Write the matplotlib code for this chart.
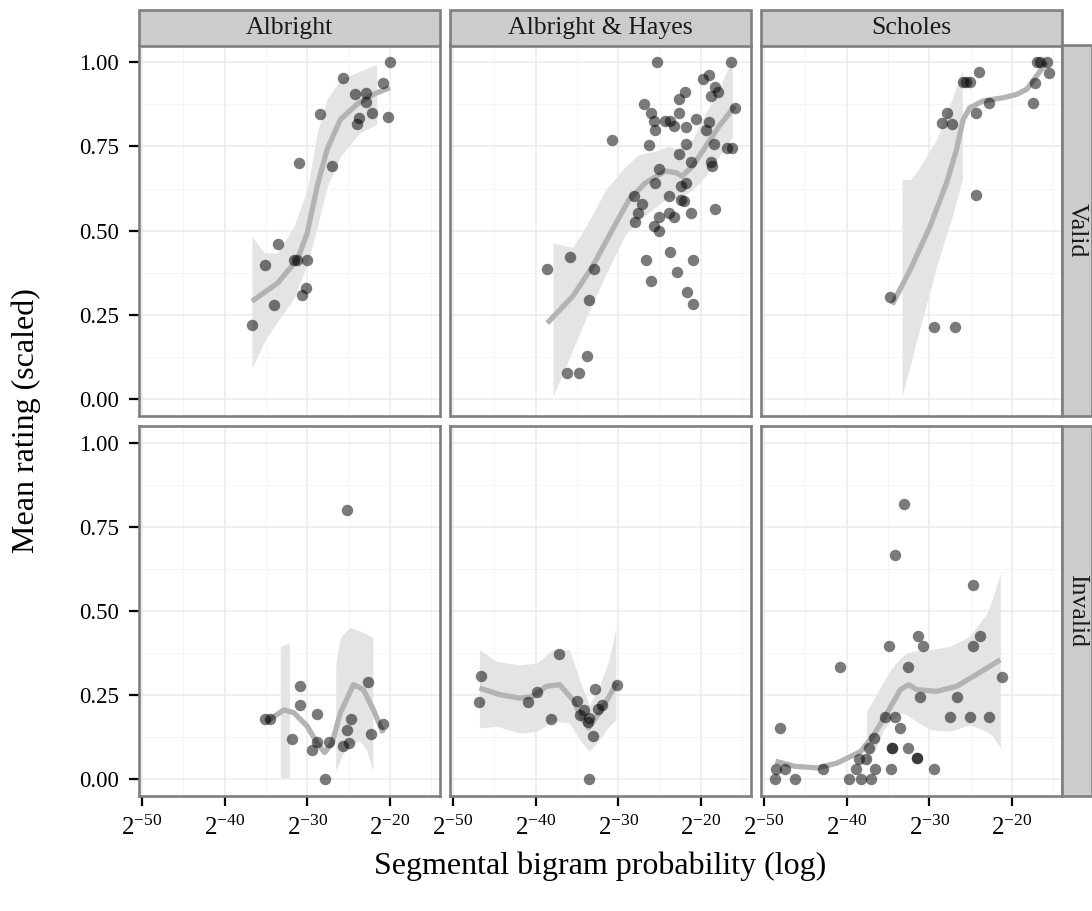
import matplotlib
matplotlib.use('Agg')
import matplotlib.pyplot as plt
import numpy as np
from matplotlib.patches import Rectangle

plt.rcParams['font.family'] = ['Liberation Serif', 'DejaVu Serif']
plt.rcParams['mathtext.fontset'] = 'custom'
plt.rcParams['mathtext.rm'] = 'Liberation Serif'
plt.rcParams['mathtext.default'] = 'regular'

# facet labels
sources = ['Albright', 'Albright & Hayes', 'Scholes']
conditions = ['Valid', 'Invalid']

# x values are log2(probability)
x_ticks = [-50, -40, -30, -20]
x_tick_labels = ['$2^{-50}$', '$2^{-40}$', '$2^{-30}$', '$2^{-20}$']
y_ticks = [0.0, 0.25, 0.5, 0.75, 1.0]
y_tick_labels = ['0.00', '0.25', '0.50', '0.75', '1.00']

# ---- Albright / Valid
alb_valid_x = [-20.0, -25.7, -20.8, -24.2, -22.9, -22.9, -22.2, -23.8, -24.0, -20.2, -28.4,
               -31.0, -27.0, -33.5, -35.1, -31.2, -31.6, -30.0, -30.1, -30.6, -34.0, -36.7]
alb_valid_y = [1.00, 0.954, 0.9375, 0.907, 0.908, 0.882, 0.850, 0.835, 0.818, 0.839, 0.845,
               0.700, 0.691, 0.461, 0.398, 0.412, 0.412, 0.412, 0.329, 0.309, 0.279, 0.219]
alb_valid_fit_x = [-36.7, -33.6, -31.2, -30.0, -28.8, -27.6, -26.0, -24.0, -22.0, -20.0]
alb_valid_fit_y = [0.290, 0.344, 0.414, 0.493, 0.632, 0.741, 0.830, 0.875, 0.905, 0.925]
alb_valid_band_x = [-36.7, -35.2, -33.6, -31.6, -30.0, -28.8, -27.6, -26.0, -23.6, -21.6]
alb_valid_band_hi = [0.483, 0.434, 0.434, 0.513, 0.622, 0.791, 0.890, 0.949, 0.974, 0.994]
alb_valid_band_lo = [0.091, 0.170, 0.230, 0.300, 0.400, 0.510, 0.630, 0.720, 0.791, 0.815]

# ---- Albright & Hayes / Valid
ah_valid_x = [-25.3, -16.3, -19.8, -19.0, -18.3, -17.9, -18.8, -21.9, -22.6, -26.9, -15.9,
              -26.1, -22.6, -25.7, -24.4, -23.7, -23.2, -21.8, -20.6, -19.0, -25.5, -19.4,
              -30.8, -26.3, -21.8, -18.4, -16.9, -16.2, -22.6, -21.2, -18.8, -18.6, -25.1,
              -25.6, -21.8, -22.4, -23.9, -28.1, -22.4, -22.0, -27.1, -18.3, -21.2, -27.6,
              -23.9, -23.2, -25.1, -28.0, -25.7, -25.1, -23.7, -26.7, -21.0, -22.9, -26.0,
              -21.7, -20.9, -38.6, -35.9, -32.9, -33.6, -33.8, -36.2, -34.7]
ah_valid_y = [1.00, 1.00, 0.951, 0.961, 0.928, 0.912, 0.900, 0.913, 0.890, 0.875, 0.865,
              0.848, 0.848, 0.825, 0.825, 0.825, 0.812, 0.809, 0.832, 0.824, 0.799, 0.799,
              0.769, 0.754, 0.757, 0.756, 0.745, 0.745, 0.729, 0.705, 0.705, 0.693, 0.684,
              0.640, 0.640, 0.632, 0.604, 0.602, 0.592, 0.589, 0.579, 0.565, 0.553, 0.553,
              0.553, 0.539, 0.539, 0.525, 0.513, 0.500, 0.4375, 0.412, 0.412, 0.376, 0.350,
              0.319, 0.281, 0.386, 0.422, 0.386, 0.293, 0.126, 0.076, 0.076]
ah_valid_fit_x = [-38.6, -35.5, -33.1, -30.7, -28.7, -26.7, -24.3, -23.0, -22.3, -21.0,
                  -19.4, -17.8, -15.9]
ah_valid_fit_y = [0.225, 0.305, 0.394, 0.503, 0.592, 0.642, 0.677, 0.672, 0.662, 0.691,
                  0.751, 0.810, 0.870]
ah_valid_band_x = [-37.9, -35.5, -33.9, -31.5, -29.1, -27.5, -25.5, -23.9, -22.7, -21.0,
                   -19.4, -17.8, -16.6, -16.2]
ah_valid_band_hi = [0.463, 0.450, 0.513, 0.622, 0.691, 0.726, 0.736, 0.751, 0.741, 0.771,
                    0.850, 0.920, 0.989, 1.000]
ah_valid_band_lo = [0.007, 0.146, 0.240, 0.370, 0.490, 0.530, 0.570, 0.600, 0.592, 0.622,
                    0.662, 0.720, 0.760, 0.780]

# ---- Scholes / Valid
sch_valid_x = [-17.0, -16.6, -15.7, -15.5, -17.2, -17.5, -24.0, -25.9, -25.5, -25.1,
               -22.8, -24.4, -27.9, -28.5, -27.3, -24.3, -34.7, -29.4, -26.9]
sch_valid_y = [1.00, 1.00, 1.00, 0.969, 0.940, 0.880, 0.971, 0.942, 0.942, 0.942,
               0.878, 0.848, 0.850, 0.820, 0.818, 0.607, 0.303, 0.213, 0.213]
sch_valid_fit_x = [-34.5, -32.3, -29.9, -27.9, -26.7, -25.9, -25.1, -23.5, -21.0, -19.4,
                   -18.2, -17.0, -15.8]
sch_valid_fit_y = [0.280, 0.384, 0.513, 0.642, 0.741, 0.830, 0.865, 0.885, 0.895, 0.905,
                   0.920, 0.960, 1.000]
sch_valid_band_x = [-33.3, -32.3, -31.5, -29.1, -27.1, -26.0]
sch_valid_band_hi = [0.652, 0.652, 0.675, 0.771, 0.900, 0.979]
sch_valid_band_lo = [0.007, 0.100, 0.176, 0.394, 0.553, 0.652]

# ---- Albright / Invalid
alb_invalid_x = [-25.2, -22.6, -30.9, -30.9, -28.8, -35.1, -34.5, -24.7, -20.8, -25.2,
                 -31.8, -22.3, -28.8, -27.4, -24.9, -25.7, -29.4, -27.9]
alb_invalid_y = [0.799, 0.288, 0.275, 0.218, 0.193, 0.179, 0.177, 0.179, 0.164, 0.144,
                 0.118, 0.133, 0.108, 0.108, 0.106, 0.096, 0.086, 0.000]
alb_invalid_fit_x = [-34.9, -32.8, -31.6, -30.0, -28.8, -27.9, -27.0, -26.0, -24.4, -23.2,
                     -22.0, -20.8]
alb_invalid_fit_y = [0.171, 0.205, 0.196, 0.156, 0.106, 0.078, 0.106, 0.196, 0.280, 0.265,
                     0.205, 0.136]
# the band is cut where it leaves the 0-1 range, so it comes in pieces
alb_invalid_band_x = [-33.2, -32.1, np.nan, -26.5, -26.0, -25.4, -24.8, -23.6, -22.8, -22.0]
alb_invalid_band_hi = [0.393, 0.402, np.nan, 0.334, 0.414, 0.435, 0.448, 0.438, 0.430, 0.419]
alb_invalid_band_lo = [0.002, 0.002, np.nan, 0.022, 0.050, 0.086, 0.100, 0.111, 0.086, 0.022]

# ---- Albright & Hayes / Invalid
ah_invalid_x = [-37.2, -46.6, -46.9, -39.8, -40.9, -38.1, -35.0, -34.2, -34.6, -33.6,
                -33.7, -32.8, -32.4, -32.0, -33.0, -30.2, -33.5]
ah_invalid_y = [0.371, 0.307, 0.229, 0.257, 0.227, 0.179, 0.230, 0.205, 0.191, 0.180,
                0.168, 0.267, 0.207, 0.219, 0.126, 0.280, 0.000]
ah_invalid_fit_x = [-46.8, -44.3, -41.9, -40.3, -38.7, -37.1, -35.5, -34.3, -33.6, -32.3,
                    -31.1, -30.2]
ah_invalid_fit_y = [0.270, 0.250, 0.240, 0.245, 0.275, 0.280, 0.235, 0.176, 0.151, 0.196,
                    0.245, 0.285]
ah_invalid_band_x = [-46.8, -44.7, -41.9, -39.9, -37.9, -35.9, -34.7, -33.5, -32.3, -31.1,
                     -30.3]
ah_invalid_band_hi = [0.384, 0.349, 0.339, 0.344, 0.384, 0.384, 0.295, 0.220, 0.275, 0.354,
                      0.448]
ah_invalid_band_lo = [0.151, 0.156, 0.136, 0.141, 0.171, 0.166, 0.116, 0.081, 0.116, 0.156,
                      0.176]

# ---- Scholes / Invalid
sch_invalid_x = [-33.0, -34.2, -24.7, -31.4, -23.9, -34.9, -30.8, -24.7, -40.8, -32.6,
                 -21.2, -31.1, -26.7, -35.3, -34.1, -27.5, -25.1, -22.8, -33.5, -48.1,
                 -36.7, -37.3, -34.5, -34.5, -32.6, -31.5, -31.5, -37.6, -38.5, -48.5,
                 -47.4, -42.9, -38.9, -36.6, -34.6, -29.4, -48.7, -46.3, -39.7, -38.3,
                 -37.1]
sch_invalid_y = [0.818, 0.667, 0.577, 0.426, 0.426, 0.394, 0.394, 0.394, 0.334, 0.334,
                 0.304, 0.243, 0.243, 0.183, 0.183, 0.183, 0.183, 0.183, 0.151, 0.151,
                 0.121, 0.091, 0.091, 0.091, 0.091, 0.062, 0.062, 0.059, 0.059, 0.029,
                 0.029, 0.029, 0.029, 0.029, 0.029, 0.029, 0.000, 0.000, 0.000, 0.000,
                 0.000]
sch_invalid_fit_x = [-48.6, -46.3, -43.5, -41.1, -38.3, -36.7, -35.1, -33.5, -32.5, -31.5,
                     -29.1, -26.7, -24.3, -21.4]
sch_invalid_fit_y = [0.052, 0.037, 0.032, 0.047, 0.081, 0.131, 0.196, 0.265, 0.280, 0.265,
                     0.260, 0.275, 0.310, 0.354]
sch_invalid_band_x = [-37.6, -36.3, -35.5, -34.7, -33.5, -32.7, -31.9, -29.9, -27.5, -25.1,
                      -23.0, -22.3, -21.4]
sch_invalid_band_hi = [0.200, 0.255, 0.290, 0.324, 0.360, 0.374, 0.380, 0.384, 0.394, 0.424,
                       0.493, 0.540, 0.612]
sch_invalid_band_lo = [0.035, 0.100, 0.146, 0.170, 0.196, 0.190, 0.176, 0.146, 0.141, 0.161,
                       0.140, 0.126, 0.091]

panels = {
    (0, 0): (alb_valid_x, alb_valid_y, alb_valid_fit_x, alb_valid_fit_y,
             alb_valid_band_x, alb_valid_band_lo, alb_valid_band_hi),
    (0, 1): (ah_valid_x, ah_valid_y, ah_valid_fit_x, ah_valid_fit_y,
             ah_valid_band_x, ah_valid_band_lo, ah_valid_band_hi),
    (0, 2): (sch_valid_x, sch_valid_y, sch_valid_fit_x, sch_valid_fit_y,
             sch_valid_band_x, sch_valid_band_lo, sch_valid_band_hi),
    (1, 0): (alb_invalid_x, alb_invalid_y, alb_invalid_fit_x, alb_invalid_fit_y,
             alb_invalid_band_x, alb_invalid_band_lo, alb_invalid_band_hi),
    (1, 1): (ah_invalid_x, ah_invalid_y, ah_invalid_fit_x, ah_invalid_fit_y,
             ah_invalid_band_x, ah_invalid_band_lo, ah_invalid_band_hi),
    (1, 2): (sch_invalid_x, sch_invalid_y, sch_invalid_fit_x, sch_invalid_fit_y,
             sch_invalid_band_x, sch_invalid_band_lo, sch_invalid_band_hi),
}

W, H = 1092, 911
fig = plt.figure(figsize=(W / 100, H / 100), dpi=100)
fig.patch.set_facecolor('white')

# panel boxes in pixels
col_px = [(139, 440), (450, 751), (761, 1062)]
row_px = [(45.5, 415.7), (426, 795.5)]
border = '#7f7f7f'


def fig_rect(x0, x1, y0, y1):
    return [x0 / W, 1 - y1 / H, (x1 - x0) / W, (y1 - y0) / H]


for (r, c), (px, py, fx, fy, bx, blo, bhi) in panels.items():
    ax = fig.add_axes(fig_rect(col_px[c][0], col_px[c][1], row_px[r][0], row_px[r][1]))
    ax.set_xlim(-50.36, -13.94)
    ax.set_ylim(-0.05, 1.05)
    ax.set_axisbelow(True)

    ax.fill_between(bx, blo, bhi, color='#e4e4e4', lw=0, zorder=1)
    ax.plot(fx, fy, color='#b3b3b3', lw=3.8, solid_joinstyle='round',
            solid_capstyle='butt', zorder=2)
    ax.scatter(px, py, s=68, color='black', alpha=0.52, lw=0, zorder=3)

    ax.set_xticks(x_ticks)
    ax.set_xticks([-45, -35, -25, -15], minor=True)
    ax.set_yticks(y_ticks)
    ax.set_yticks([0.125, 0.375, 0.625, 0.875], minor=True)
    ax.grid(which='major', color='#ebebeb', lw=1.1)
    ax.grid(which='minor', color='#f5f5f5', lw=0.7)
    ax.tick_params(which='minor', length=0)
    ax.tick_params(which='major', length=7.5, width=1.6, color='black', pad=7)
    ax.tick_params(axis='y', labelsize=16.5)
    ax.tick_params(axis='x', labelsize=18)

    if r == 1:
        ax.set_xticklabels(x_tick_labels)
    else:
        ax.tick_params(axis='x', length=0, labelbottom=False)
    if c == 0:
        ax.set_yticklabels(y_tick_labels)
    else:
        ax.tick_params(axis='y', length=0, labelleft=False)

    for s in ax.spines.values():
        s.set_color(border)
        s.set_linewidth(1.9)

# top strips
for c, name in enumerate(sources):
    x0, x1 = col_px[c]
    fig.patches.append(Rectangle((x0 / W, 1 - 45.5 / H), (x1 - x0) / W, 35.5 / H,
                                 transform=fig.transFigure, facecolor='#cccccc',
                                 edgecolor=border, lw=1.9))
    fig.text((x0 + x1) / 2 / W, 1 - 28 / H, name, ha='center', va='center',
             fontsize=18.5, color='#1a1a1a')

# right strips
for r, name in enumerate(conditions):
    y0, y1 = row_px[r]
    fig.patches.append(Rectangle((1062 / W, 1 - y1 / H), 30 / W, (y1 - y0) / H,
                                 transform=fig.transFigure, facecolor='#cccccc',
                                 edgecolor=border, lw=1.9))
    fig.text(1077 / W, 1 - (y0 + y1) / 2 / H, name, ha='center', va='center',
             rotation=270, fontsize=18.5, color='#1a1a1a')

fig.text(600.5 / W, 1 - 866 / H, 'Segmental bigram probability (log)',
         ha='center', va='center', fontsize=23)
fig.text(26 / W, 1 - 420.5 / H, 'Mean rating (scaled)', ha='center', va='center',
         rotation=90, fontsize=23)

fig.savefig('out.png', dpi=100)
